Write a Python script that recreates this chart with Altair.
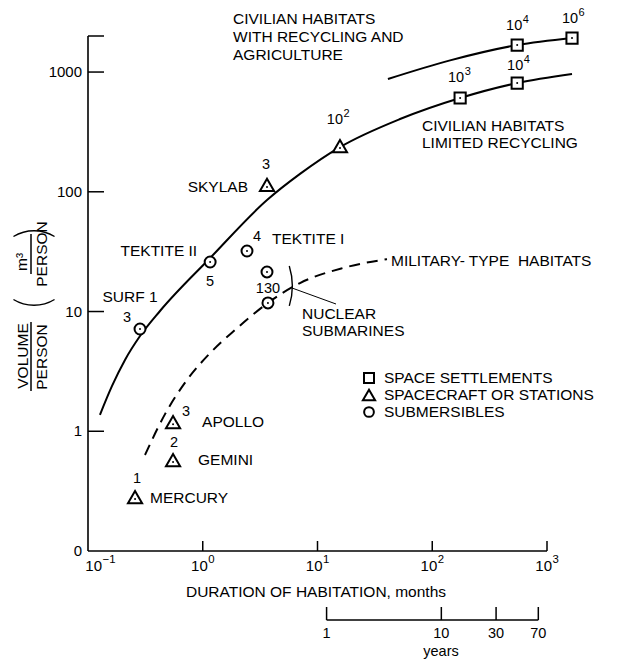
import math

import altair as alt
import pandas as pd

FONT = "Liberation Sans"
W, H = 459, 515  # plot area in pixels

# ---- spacecraft or stations (triangles) ----
craft_names = ["MERCURY", "GEMINI", "APOLLO", "SKYLAB", ""]
craft_crew = [1, 2, 3, 3, 100]
craft_months = [0.257, 0.551, 0.551, 3.63, 15.7]
craft_volume = [0.282, 0.575, 1.19, 114, 241]

# ---- submersibles (circles) ----
sub_names = ["SURF 1", "TEKTITE II", "TEKTITE I", "", ""]
sub_crew = [3, 5, 4, 0, 130]
sub_months = [0.284, 1.16, 2.43, 3.63, 3.70]
sub_volume = [7.14, 25.9, 32.0, 21.4, 11.8]

# ---- space settlements (squares) ----
settle_pop = [1e3, 1e4, 1e4, 1e6]
settle_months = [175, 550, 550, 1652]
settle_volume = [607, 809, 1680, 1923]

# ---- trend curves ----
limited_months = [0.127, 0.162, 0.210, 0.284, 0.424, 1.16, 3.63, 7.04, 15.7, 52.4, 175, 550, 1652]
limited_volume = [1.37, 2.39, 3.94, 6.24, 10.1, 28.0, 85.3, 141, 236, 405, 607, 809, 962]
agri_months = [41.1, 143, 550, 1652]
agri_volume = [875, 1252, 1680, 1923]
military_months = [0.314, 0.469, 0.729, 1.16, 1.91, 3.70, 7.04, 16.7, 40.3]
military_volume = [0.634, 1.39, 2.68, 4.50, 7.01, 11.8, 17.3, 23.1, 27.4]

# ---- axes ----
x_ticks = [0.1, 1, 10, 100, 1000]
y_ticks = [0.1, 1, 10, 100, 1000]
y_tick_labels = ["0", "1", "10", "100", "1000"]
y_top = 2000
years_ticks = [1, 10, 30, 70]

craft = pd.DataFrame({"months": craft_months, "volume": craft_volume,
                      "crew": craft_crew, "name": craft_names}).reset_index()
subs = pd.DataFrame({"months": sub_months, "volume": sub_volume,
                     "crew": sub_crew, "name": sub_names}).reset_index()
settle = pd.DataFrame({"months": settle_months, "volume": settle_volume,
                       "pop": settle_pop}).reset_index()
limited = pd.DataFrame({"months": limited_months, "volume": limited_volume})
agri = pd.DataFrame({"months": agri_months, "volume": agri_volume})
military = pd.DataFrame({"months": military_months, "volume": military_volume})

xs = alt.Scale(type="log", domain=[0.1, 1000], nice=False)
ys = alt.Scale(type="log", domain=[0.1, y_top], nice=False)


def xenc(field="months"):
    return alt.X(f"{field}:Q", scale=xs, axis=None)


def yenc(field="volume"):
    return alt.Y(f"{field}:Q", scale=ys, axis=None)


dummy = alt.Data(values=[{}])
TXT = dict(font=FONT, baseline="middle", color="black")


def note(text, px, py, size=15.5, align="left", angle=0):
    return alt.Chart(dummy).mark_text(
        text=text, fontSize=size, align=align, angle=angle, **TXT
    ).encode(x=alt.value(px), y=alt.value(py))


def tag(df, idx, field, dx, dy, align="center", size=15.5, numeric=False):
    text = alt.Text(f"{field}:Q", format="d") if numeric else alt.Text(f"{field}:N")
    return alt.Chart(df).transform_filter(alt.datum["index"] == idx).mark_text(
        fontSize=size, dx=dx, dy=dy, align=align, **TXT
    ).encode(x=xenc(), y=yenc(), text=text)


def power_label(chart, field, dx, dy, x, y, size=14.5):
    """Draw a power of ten as '10' with a raised exponent, centred at (dx, dy)."""
    base = chart.transform_calculate(
        e=f"replace('' + round(log(datum['{field}']) / LN10), '-', '\u2212')")
    ten = base.mark_text(text="10", fontSize=size, align="right", dx=dx + 5, dy=dy, **TXT
                         ).encode(x=x, y=y)
    exp = base.mark_text(fontSize=size * 0.76, align="left", dx=dx + 5.5, dy=dy - 6, **TXT
                         ).encode(x=x, y=y, text="e:N")
    return [ten, exp]


layers = []

# axis lines
layers.append(alt.Chart(dummy).mark_rule(color="black", strokeWidth=1.6)
              .encode(x=alt.value(0), x2=alt.value(W), y=alt.value(H)))
layers.append(alt.Chart(dummy).mark_rule(color="black", strokeWidth=1.6)
              .encode(x=alt.value(0), y=alt.value(0), y2=alt.value(H)))

# inward tick marks
layers.append(alt.Chart(pd.DataFrame({"months": x_ticks[1:]}))
              .mark_rule(color="black", strokeWidth=1.5)
              .encode(x=xenc(), y=alt.value(H - 10), y2=alt.value(H)))
layers.append(alt.Chart(pd.DataFrame({"volume": y_ticks[1:] + [y_top]}))
              .mark_rule(color="black", strokeWidth=1.5)
              .encode(y=yenc(), x=alt.value(0), x2=alt.value(16)))

# tick labels
layers.append(alt.Chart(pd.DataFrame({"volume": y_ticks, "label": y_tick_labels}))
              .mark_text(fontSize=15, align="right", **TXT)
              .encode(x=alt.value(-6), y=yenc(), text="label:N"))
xlab = alt.Chart(pd.DataFrame({"months": x_ticks}))
layers += power_label(xlab.transform_filter("datum.months < 0.5"), "months", 9, 0,
                      xenc(), alt.value(H + 15), size=15)
layers += power_label(xlab.transform_filter("datum.months >= 0.5"), "months", 0, 0,
                      xenc(), alt.value(H + 15), size=15)
layers.append(note("DURATION OF HABITATION, months", 228, 556, align="center"))

# secondary duration scale in years
years = alt.Chart(pd.DataFrame({"years": years_ticks})).transform_calculate(
    months="datum.years * 12", label="'' + datum.years")
layers.append(years.transform_aggregate(lo="min(months)", hi="max(months)")
              .mark_rule(color="black", strokeWidth=1.5)
              .encode(x=alt.X("lo:Q", scale=xs, axis=None), x2="hi:Q", y=alt.value(584)))
layers.append(years.mark_rule(color="black", strokeWidth=1.5)
              .encode(x=xenc(), y=alt.value(571), y2=alt.value(584)))
layers.append(years.mark_text(fontSize=14.5, **TXT)
              .encode(x=xenc(), y=alt.value(598), text="label:N"))
layers.append(note("years", 353, 616, size=14.5, align="center"))

# curves
layers.append(alt.Chart(limited).mark_line(color="black", strokeWidth=2, interpolate="monotone")
              .encode(x=xenc(), y=yenc()))
layers.append(alt.Chart(agri).mark_line(color="black", strokeWidth=2, interpolate="monotone")
              .encode(x=xenc(), y=yenc()))
layers.append(alt.Chart(military).mark_line(color="black", strokeWidth=2, strokeDash=[11, 7],
                                            interpolate="monotone")
              .encode(x=xenc(), y=yenc()))

# markers
marker_style = dict(filled=True, fill="white", stroke="black", strokeWidth=2, opacity=1)
layers.append(alt.Chart(craft).mark_point(shape="triangle-up", size=200, **marker_style)
              .encode(x=xenc(), y=yenc()))
layers.append(alt.Chart(subs).mark_point(shape="circle", size=120, **marker_style)
              .encode(x=xenc(), y=yenc()))
layers.append(alt.Chart(settle).mark_point(shape="square", size=125, **marker_style)
              .encode(x=xenc(), y=yenc()))
dot = dict(shape="circle", size=4, filled=True, color="black", opacity=1)
layers.append(alt.Chart(craft).mark_point(yOffset=2, **dot).encode(x=xenc(), y=yenc()))
layers.append(alt.Chart(subs).mark_point(**dot).encode(x=xenc(), y=yenc()))
layers.append(alt.Chart(settle).mark_point(**dot).encode(x=xenc(), y=yenc()))

# point labels: crew sizes and names
craft_crew_pos = [(2, -18), (1, -17), (13, -10), (-1, -20), None]
craft_name_pos = [(15, 1, "left"), (25, 0, "left"), (29, 0, "left"), (-19, 2, "right"), None]
sub_crew_pos = [(-13, -11), (0, 20), (10, -14), None, (0, -14)]
sub_name_pos = [(-10, -32, "center"), (-13, -11, "right"), (25, -12, "left"), None, None]
settle_pos = [(-1, -20), (1, -17), (0, -19), (1, -19)]

for i, p in enumerate(craft_crew_pos):
    if p:
        layers.append(tag(craft, i, "crew", p[0], p[1], size=14.5, numeric=True))
layers += power_label(alt.Chart(craft).transform_filter(alt.datum["index"] == 4),
                      "crew", -2, -26, xenc(), yenc())
for i, p in enumerate(craft_name_pos):
    if p:
        layers.append(tag(craft, i, "name", p[0], p[1], align=p[2]))
for i, p in enumerate(sub_crew_pos):
    if p:
        layers.append(tag(subs, i, "crew", p[0], p[1], size=14.5, numeric=True))
for i, p in enumerate(sub_name_pos):
    if p:
        layers.append(tag(subs, i, "name", p[0], p[1], align=p[2]))
for i, p in enumerate(settle_pos):
    layers += power_label(alt.Chart(settle).transform_filter(alt.datum["index"] == i),
                          "pop", p[0], p[1], xenc(), yenc())

# curve annotations
for text, px, py in [("CIVILIAN HABITATS", 145, -17),
                     ("WITH RECYCLING AND", 145, 1),
                     ("AGRICULTURE", 145, 19),
                     ("CIVILIAN HABITATS", 334, 90),
                     ("LIMITED RECYCLING", 334, 107),
                     ("MILITARY- TYPE\u00a0 HABITATS", 303, 225),
                     ("NUCLEAR", 214, 278),
                     ("SUBMARINES", 214, 295)]:
    layers.append(note(text, px, py))

# bracket and leader for the nuclear submarines
layers.append(alt.Chart(dummy).mark_arc(radius=68, radius2=66.6, theta=1.27, theta2=1.87,
                                        color="black")
              .encode(x=alt.value(137), y=alt.value(250)))
layers.append(alt.Chart(dummy).mark_rule(color="black", strokeWidth=1)
              .encode(x=alt.value(204), y=alt.value(252), x2=alt.value(248), y2=alt.value(268)))

# key
layers.append(alt.Chart(dummy).mark_point(shape="square", size=100, **marker_style)
              .encode(x=alt.value(281), y=alt.value(342)))
layers.append(alt.Chart(dummy).mark_point(shape="triangle-up", size=150, **marker_style)
              .encode(x=alt.value(281), y=alt.value(359)))
layers.append(alt.Chart(dummy).mark_point(shape="circle", size=95, **marker_style)
              .encode(x=alt.value(281), y=alt.value(376)))
layers.append(note("SPACE SETTLEMENTS", 296, 342))
layers.append(note("SPACECRAFT OR STATIONS", 296, 359))
layers.append(note("SUBMERSIBLES", 296, 376))

# vertical axis title: VOLUME / PERSON (m³ / PERSON)
layers.append(note("VOLUME", -65, 320, align="center", angle=270))
layers.append(note("PERSON", -46, 321, align="center", angle=270))
layers.append(alt.Chart(dummy).mark_rule(color="black", strokeWidth=1.5)
              .encode(x=alt.value(-57), y=alt.value(286), y2=alt.value(355)))
layers.append(note("m³", -66, 226, align="center", angle=270))
layers.append(note("PERSON", -46, 218, align="center", angle=270))
layers.append(alt.Chart(dummy).mark_rule(color="black", strokeWidth=1.5)
              .encode(x=alt.value(-57), y=alt.value(198), y2=alt.value(238)))
half = 0.55
layers.append(alt.Chart(dummy).mark_arc(radius=40, radius2=38.6, theta=2 * math.pi - half,
                                        theta2=2 * math.pi + half, color="black")
              .encode(x=alt.value(-54), y=alt.value(234)))
layers.append(alt.Chart(dummy).mark_arc(radius=40, radius2=38.6, theta=math.pi - half,
                                        theta2=math.pi + half, color="black")
              .encode(x=alt.value(-54), y=alt.value(230)))

chart = alt.layer(*layers).properties(
    width=W, height=H,
    padding={"left": 88, "top": 36, "right": 78, "bottom": 108},
    autosize=alt.AutoSizeParams(type="none"),
    background="white",
).configure_view(stroke=None)

chart.save("out.html", embed_options={"renderer": "svg", "actions": False})
